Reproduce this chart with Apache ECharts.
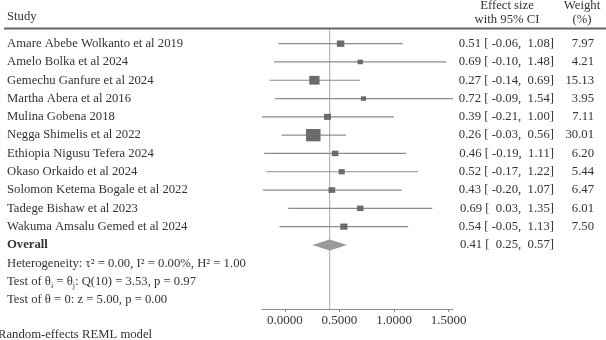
<!DOCTYPE html>
<html>
<head>
<meta charset="utf-8">
<script src="https://cdn.jsdelivr.net/npm/echarts@6/dist/echarts.min.js"></script>
<style>
  html, body { margin: 0; padding: 0; background: #fff; }
  #forest { width: 606px; height: 340px; }
</style>
</head>
<body>
<div id="forest"></div>
<script>
const studies = [
  'Amare Abebe Wolkanto et al 2019',
  'Amelo Bolka et al 2024',
  'Gemechu Ganfure et al 2024',
  'Martha Abera et al 2016',
  'Mulina Gobena 2018',
  'Negga Shimelis et al 2022',
  'Ethiopia Nigusu Tefera 2024',
  'Okaso Orkaido et al 2024',
  'Solomon Ketema Bogale et al 2022',
  'Tadege Bishaw et al 2023',
  'Wakuma Amsalu Gemed et al 2024'
];
const effects = [0.51, 0.69, 0.27, 0.72, 0.39, 0.26, 0.46, 0.52, 0.43, 0.69, 0.54];
const lower   = [-0.06, -0.10, -0.14, -0.09, -0.21, -0.03, -0.19, -0.17, -0.20, 0.03, -0.05];
const upper   = [1.08, 1.48, 0.69, 1.54, 1.00, 0.56, 1.11, 1.22, 1.07, 1.35, 1.13];
const weights = [7.97, 4.21, 15.13, 3.95, 7.11, 30.01, 6.20, 5.44, 6.47, 6.01, 7.50];

const overallEffect = 0.41;
const overallCI = [0.25, 0.57];

const statLines = [
  'Heterogeneity: τ² = 0.00, I² = 0.00%, H² = 1.00',
  'Test of θi = θj: Q(10) = 3.53, p = 0.97',
  'Test of θ = 0: z = 5.00, p = 0.00'
];
const xTicks = [0, 0.5, 1, 1.5];

const rows = studies.concat(['Overall'], statLines);
const overallRow = studies.length;

const FONT = 'Liberation Serif';
const FS = 12.7;
const TXT = '#333';
const headFont = FS + 'px "Liberation Serif"';

let chart = echarts.init(document.getElementById('forest'), null, {renderer: 'canvas'});

const pad = (v) => (v < 0 ? ' ' : '  ') + v.toFixed(2);
const ciText = (e, lo, hi) => `${e.toFixed(2)} [${pad(lo)},${pad(hi)}]`;

const hiddenAxis = {
  type: 'category',
  data: rows,
  inverse: true,
  axisLine: {show: false},
  axisTick: {show: false},
  splitLine: {show: false}
};

let option = {
  animation: false,
  backgroundColor: '#fff',
  grid: {left: 262, top: 34.5, width: 191, height: 274.5},
  xAxis: {
    type: 'value',
    min: -0.21,
    max: 1.54,
    splitLine: {show: false},
    axisLine: {show: true, onZero: false, lineStyle: {color: '#8a8a8a', width: 1}},
    axisTick: {show: true, customValues: xTicks, length: 3, lineStyle: {color: '#8a8a8a'}},
    axisLabel: {
      customValues: xTicks,
      formatter: (v) => Number(v).toFixed(4),
      margin: 5,
      fontFamily: FONT,
      fontSize: 13,
      color: TXT
    }
  },
  yAxis: [
    Object.assign({}, hiddenAxis, {
      position: 'left',
      axisLabel: {
        interval: 0,
        align: 'left',
        margin: 255,
        formatter: (v) => {
          if (v === 'Overall') return '{b|Overall}';
          return '{n|' + v.replace(/θ([ij])/g, 'θ}{s|$1}{n|') + '}';
        },
        rich: {
          n: {fontFamily: FONT, fontSize: FS, color: TXT, lineHeight: 16},
          b: {fontFamily: FONT, fontSize: FS, color: TXT, fontWeight: 'bold', lineHeight: 16},
          s: {fontFamily: FONT, fontSize: 8, color: TXT, verticalAlign: 'bottom', lineHeight: 8}
        }
      }
    }),
    Object.assign({}, hiddenAxis, {
      position: 'right',
      axisLabel: {
        interval: 0,
        align: 'right',
        margin: 101,
        fontFamily: FONT,
        fontSize: FS,
        color: TXT,
        formatter: (v, i) => {
          if (i < studies.length) return ciText(effects[i], lower[i], upper[i]);
          if (i === overallRow) return ciText(overallEffect, overallCI[0], overallCI[1]);
          return '';
        }
      }
    }),
    Object.assign({}, hiddenAxis, {
      position: 'right',
      axisLabel: {
        interval: 0,
        align: 'right',
        margin: 141,
        fontFamily: FONT,
        fontSize: FS,
        color: TXT,
        formatter: (v, i) => (i < studies.length ? weights[i].toFixed(2) : '')
      }
    })
  ],
  graphic: [
    {type: 'text', x: 7, y: 17, style: {text: 'Study', font: headFont, fill: TXT, verticalAlign: 'middle'}},
    {type: 'text', x: 507, y: 6, style: {text: 'Effect size', font: headFont, fill: TXT, align: 'center', verticalAlign: 'middle'}},
    {type: 'text', x: 507, y: 20, style: {text: 'with 95% CI', font: headFont, fill: TXT, align: 'center', verticalAlign: 'middle'}},
    {type: 'text', x: 582, y: 6, style: {text: 'Weight', font: headFont, fill: TXT, align: 'center', verticalAlign: 'middle'}},
    {type: 'text', x: 582, y: 20, style: {text: '(%)', font: headFont, fill: TXT, align: 'center', verticalAlign: 'middle'}},
    {type: 'line', shape: {x1: 4, y1: 28.5, x2: 606, y2: 28.5}, style: {stroke: '#666', lineWidth: 2}},
    {type: 'text', x: -2, y: 335, style: {text: 'Random-effects REML model', font: headFont, fill: TXT, verticalAlign: 'middle'}}
  ],
  series: [
    {
      // confidence intervals
      type: 'custom',
      yAxisIndex: 0,
      data: studies.map((s, i) => [lower[i], upper[i], i]),
      encode: {x: [0, 1], y: 2},
      renderItem: (params, api) => {
        const a = api.coord([api.value(0), api.value(2)]);
        const b = api.coord([api.value(1), api.value(2)]);
        return {
          type: 'line',
          shape: {x1: a[0], y1: a[1], x2: b[0], y2: b[1]},
          style: {stroke: '#8c8c8c', lineWidth: 1.2}
        };
      },
      z: 2
    },
    {
      // study weights as squares
      type: 'scatter',
      yAxisIndex: 0,
      symbol: 'rect',
      data: studies.map((s, i) => {
        const w = 14.5 * Math.sqrt(weights[i] / 30.01);
        return {value: [effects[i], i], symbolSize: [w, w * 0.85]};
      }),
      itemStyle: {color: '#6b6b6b', opacity: 1},
      z: 3
    },
    {
      // overall diamond and the vertical line through the pooled estimate
      type: 'custom',
      yAxisIndex: 0,
      data: [[overallCI[0], overallEffect, overallCI[1], overallRow]],
      encode: {x: [0, 1, 2], y: 3},
      renderItem: (params, api) => {
        const l = api.coord([api.value(0), api.value(3)]);
        const m = api.coord([api.value(1), api.value(3)]);
        const r = api.coord([api.value(2), api.value(3)]);
        const h = 5.5;
        const rect = params.coordSys;
        return {
          type: 'group',
          children: [
            {
              type: 'line',
              shape: {x1: m[0], y1: rect.y - 5, x2: m[0], y2: rect.y + rect.height},
              style: {stroke: '#a8a8a8', lineWidth: 1},
              z2: 0
            },
            {
              type: 'polygon',
              shape: {points: [[l[0], l[1]], [m[0], m[1] - h], [r[0], r[1]], [m[0], m[1] + h]]},
              style: {fill: '#9a9a9a'},
              z2: 1
            }
          ]
        };
      },
      z: 1
    }
  ]
};

chart.setOption(option);
</script>
</body>
</html>
